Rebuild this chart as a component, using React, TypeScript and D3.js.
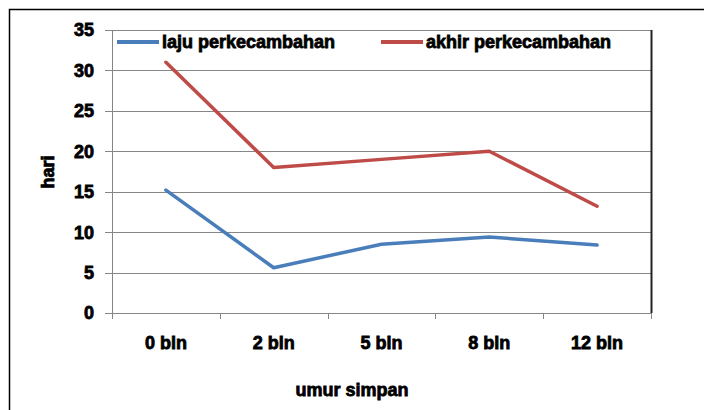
import React from "react";
import * as d3 from "d3";

const categories = ["0 bln", "2 bln", "5 bln", "8 bln", "12 bln"];
const lajuValues = [15.2, 5.6, 8.5, 9.4, 8.4];
const akhirValues = [31, 18, 19, 20, 13.2];
const yTicks = [0, 5, 10, 15, 20, 25, 30, 35];
const seriesNames = ["laju perkecambahan", "akhir perkecambahan"];
const seriesColors = ["#4a7ebb", "#be4b48"];

const W = 704;
const H = 410;
const plot = { left: 112, right: 651, top: 30, bottom: 313 };
const font = "'Liberation Sans', Arial, sans-serif";

export default function App() {
  const x = d3
    .scaleBand<string>()
    .domain(categories)
    .range([plot.left, plot.right]);
  const y = d3.scaleLinear().domain([0, 35]).range([plot.bottom, plot.top]);
  const line = d3
    .line<number>()
    .x((_, i) => (x(categories[i]) as number) + x.bandwidth() / 2)
    .y((d) => y(d));
  const series = [lajuValues, akhirValues];
  const textStyle = {
    fontFamily: font,
    fontWeight: 700,
    fill: "#000",
    stroke: "#000",
    strokeWidth: 0.8,
  } as React.CSSProperties;

  const boundaries = [...categories.map((c) => x(c) as number), plot.right];
  const fs = 18;

  return (
    <svg
      width={W}
      height={H}
      style={{ position: "absolute", left: 0, top: 0, background: "#fff" }}
    >
      <rect x={0} y={0} width={W} height={H} fill="#fff" />
      {/* outer border */}
      <rect x={9.5} y={9.5} width={W + 20} height={H + 20} fill="none" stroke="#000" strokeWidth={1.5} />
      {/* gridlines */}
      {yTicks.map((t) => (
        <line
          key={"g" + t}
          x1={plot.left - 7}
          x2={plot.right}
          y1={Math.round(y(t)) + 0.5}
          y2={Math.round(y(t)) + 0.5}
          stroke="#868686"
          strokeWidth={1}
        />
      ))}
      {/* y axis */}
      <line x1={plot.left + 0.5} x2={plot.left + 0.5} y1={plot.top} y2={plot.bottom + 5} stroke="#868686" />
      {/* x tick marks */}
      {boundaries.map((b, i) => (
        <line
          key={"xt" + i}
          x1={Math.round(b) + 0.5}
          x2={Math.round(b) + 0.5}
          y1={plot.bottom}
          y2={plot.bottom + 6}
          stroke="#868686"
        />
      ))}
      {/* right plot border */}
      <line x1={plot.right + 0.5} x2={plot.right + 0.5} y1={plot.top} y2={plot.bottom} stroke="#222" strokeWidth={2} />
      {/* y tick labels */}
      {yTicks.map((t) => (
        <text
          key={"yl" + t}
          x={94}
          y={y(t)}
          dy="0.36em"
          textAnchor="end"
          fontSize={fs}
          style={textStyle}
        >
          {t}
        </text>
      ))}
      {/* x labels */}
      {categories.map((c) => (
        <text
          key={"xl" + c}
          x={(x(c) as number) + x.bandwidth() / 2}
          y={349}
          textAnchor="middle"
          fontSize={fs}
          style={textStyle}
        >
          {c}
        </text>
      ))}
      {/* axis titles */}
      <text x={352} y={396} textAnchor="middle" fontSize={fs} style={textStyle}>
        umur simpan
      </text>
      <text
        transform="translate(54,172) rotate(-90)"
        textAnchor="middle"
        fontSize={fs}
        style={textStyle}
      >
        hari
      </text>
      {/* series */}
      {series.map((s, i) => (
        <path
          key={"s" + i}
          d={line(s) as string}
          fill="none"
          stroke={seriesColors[i]}
          strokeWidth={3.5}
          strokeLinejoin="round"
          strokeLinecap="round"
        />
      ))}
      {/* legend */}
      {seriesNames.map((n, i) => {
        const lx = i === 0 ? 117 : 381;
        return (
          <g key={"lg" + i}>
            <line x1={lx} x2={lx + 42} y1={42} y2={42} stroke={seriesColors[i]} strokeWidth={4} />
            <text x={lx + 45} y={48} fontSize={fs} style={textStyle}>
              {n}
            </text>
          </g>
        );
      })}
    </svg>
  );
}
